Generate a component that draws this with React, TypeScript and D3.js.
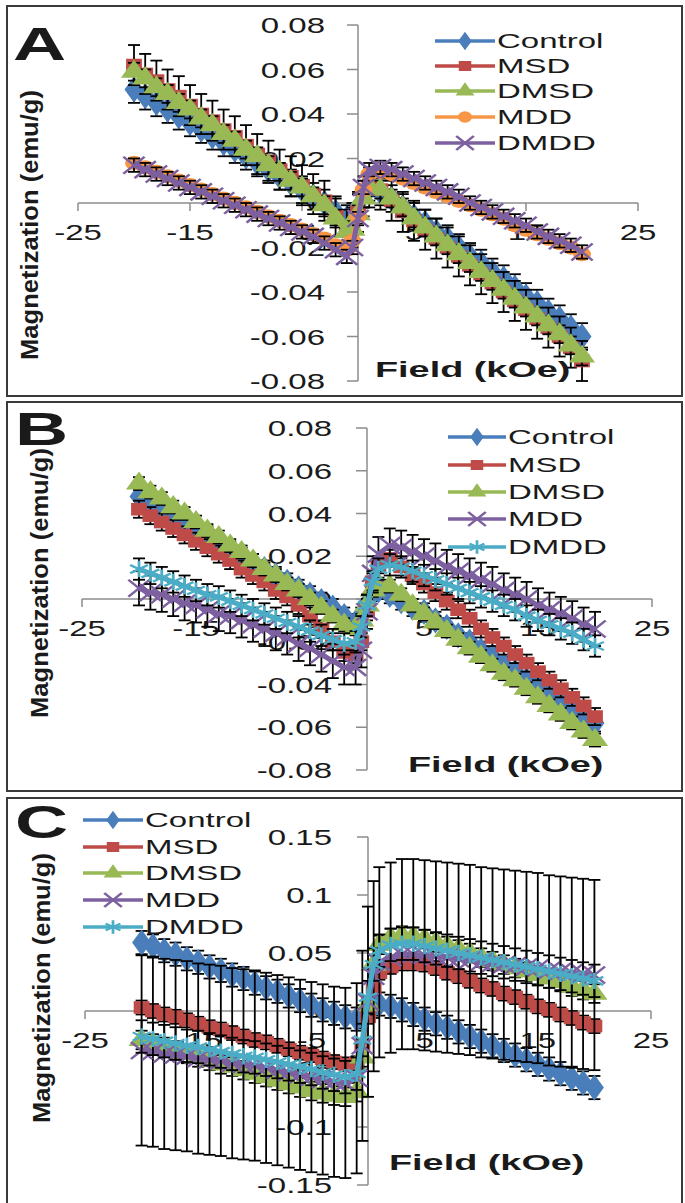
import React from 'react';
import * as d3 from 'd3';

// field (kOe), shared by all three panels
const FIELD = [-20, -19, -18, -17, -16, -15, -14, -13, -12, -11, -10, -9, -8, -7, -6, -5, -4, -3, -2, -1, -0.5, 0, 0.5, 1, 2, 3, 4, 5, 6, 7, 8, 9, 10, 11, 12, 13, 14, 15, 16, 17, 18, 19, 20];

const SERIES = ['Control', 'MSD', 'DMSD', 'MDD', 'DMDD'];
const X_TICKS = [-25, -15, -5, 5, 15, 25];

// panel A
const A_CONTROL = [0.051, 0.048, 0.045, 0.042, 0.039, 0.036, 0.033, 0.030, 0.027, 0.024, 0.021, 0.018, 0.015, 0.012, 0.009, 0.006, 0.003, 0.000, -0.004, -0.007, -0.006, -0.002, 0.004, 0.007, 0.005, 0.002, -0.002, -0.006, -0.009, -0.013, -0.016, -0.020, -0.024, -0.027, -0.031, -0.034, -0.038, -0.042, -0.045, -0.049, -0.052, -0.056, -0.060];
const A_MSD = [0.062, 0.058, 0.055, 0.051, 0.048, 0.044, 0.040, 0.037, 0.033, 0.030, 0.026, 0.022, 0.019, 0.015, 0.012, 0.008, 0.004, 0.001, -0.006, -0.012, -0.011, -0.004, 0.003, 0.007, 0.006, 0.001, -0.004, -0.008, -0.012, -0.016, -0.020, -0.024, -0.028, -0.032, -0.036, -0.040, -0.044, -0.048, -0.052, -0.056, -0.060, -0.065, -0.071];
const A_DMSD = [0.059, 0.056, 0.052, 0.049, 0.045, 0.042, 0.038, 0.035, 0.031, 0.028, 0.024, 0.021, 0.017, 0.014, 0.010, 0.007, 0.003, -0.001, -0.007, -0.013, -0.012, -0.005, 0.002, 0.007, 0.006, 0.002, -0.002, -0.007, -0.011, -0.015, -0.019, -0.023, -0.027, -0.031, -0.035, -0.039, -0.043, -0.047, -0.051, -0.055, -0.059, -0.064, -0.069];
const A_MDD = [0.018, 0.016, 0.014, 0.012, 0.010, 0.008, 0.006, 0.004, 0.002, 0.000, -0.002, -0.004, -0.006, -0.008, -0.010, -0.012, -0.014, -0.016, -0.019, -0.021, -0.017, -0.006, 0.006, 0.013, 0.014, 0.013, 0.011, 0.009, 0.007, 0.005, 0.003, 0.001, -0.001, -0.003, -0.005, -0.007, -0.010, -0.012, -0.014, -0.016, -0.018, -0.020, -0.023];
const A_DMDD = [0.017, 0.015, 0.013, 0.011, 0.009, 0.007, 0.005, 0.003, 0.001, -0.001, -0.003, -0.005, -0.007, -0.009, -0.011, -0.013, -0.015, -0.018, -0.021, -0.024, -0.020, -0.007, 0.007, 0.015, 0.016, 0.015, 0.013, 0.011, 0.009, 0.007, 0.005, 0.003, 0.000, -0.002, -0.004, -0.006, -0.008, -0.010, -0.013, -0.015, -0.017, -0.019, -0.022];
const A_ERR = [0.006, 0.009, 0.004, 0.002, 0.003];

// panel B
const B_CONTROL = [0.048, 0.045, 0.042, 0.039, 0.036, 0.033, 0.030, 0.026, 0.023, 0.020, 0.017, 0.014, 0.011, 0.008, 0.005, 0.002, -0.001, -0.004, -0.008, -0.011, -0.008, -0.002, 0.003, 0.004, 0.002, -0.001, -0.004, -0.006, -0.010, -0.013, -0.017, -0.020, -0.024, -0.027, -0.031, -0.034, -0.038, -0.041, -0.045, -0.048, -0.052, -0.055, -0.058];
const B_MSD = [0.042, 0.039, 0.036, 0.033, 0.030, 0.027, 0.024, 0.021, 0.018, 0.014, 0.011, 0.008, 0.004, 0.001, -0.003, -0.008, -0.014, -0.020, -0.025, -0.026, -0.020, -0.006, 0.008, 0.016, 0.019, 0.015, 0.011, 0.007, 0.003, -0.001, -0.005, -0.009, -0.014, -0.018, -0.022, -0.026, -0.030, -0.034, -0.038, -0.042, -0.046, -0.050, -0.055];
const B_DMSD = [0.054, 0.050, 0.047, 0.043, 0.040, 0.036, 0.032, 0.029, 0.025, 0.022, 0.018, 0.014, 0.011, 0.007, 0.004, 0.000, -0.004, -0.008, -0.012, -0.014, -0.010, -0.003, 0.004, 0.007, 0.006, 0.002, -0.003, -0.007, -0.011, -0.015, -0.019, -0.023, -0.027, -0.031, -0.035, -0.038, -0.042, -0.046, -0.050, -0.054, -0.058, -0.062, -0.066];
const B_MDD = [0.005, 0.003, 0.002, 0.000, -0.002, -0.003, -0.005, -0.007, -0.008, -0.010, -0.012, -0.014, -0.016, -0.018, -0.021, -0.023, -0.026, -0.029, -0.032, -0.032, -0.024, -0.006, 0.012, 0.021, 0.025, 0.024, 0.022, 0.020, 0.018, 0.015, 0.013, 0.011, 0.009, 0.007, 0.004, 0.002, 0.000, -0.003, -0.005, -0.007, -0.009, -0.012, -0.014];
const B_DMDD = [0.014, 0.012, 0.010, 0.008, 0.006, 0.004, 0.002, 0.001, -0.001, -0.003, -0.005, -0.007, -0.009, -0.011, -0.013, -0.015, -0.017, -0.019, -0.021, -0.020, -0.013, -0.003, 0.008, 0.014, 0.016, 0.015, 0.013, 0.011, 0.009, 0.007, 0.005, 0.003, 0.001, -0.001, -0.003, -0.005, -0.008, -0.010, -0.012, -0.014, -0.016, -0.019, -0.022];
const B_ERR = [0.004, 0.004, 0.003, 0.008, 0.005];

// panel C
const C_CONTROL = [0.059, 0.056, 0.052, 0.049, 0.045, 0.042, 0.038, 0.035, 0.031, 0.028, 0.024, 0.020, 0.017, 0.013, 0.009, 0.005, 0.001, -0.002, -0.005, -0.007, -0.005, 0.000, 0.004, 0.006, 0.004, 0.001, -0.003, -0.007, -0.011, -0.014, -0.018, -0.022, -0.026, -0.030, -0.034, -0.038, -0.042, -0.046, -0.050, -0.054, -0.058, -0.062, -0.066];
const C_MSD = [0.003, 0.000, -0.003, -0.005, -0.008, -0.011, -0.014, -0.016, -0.019, -0.022, -0.025, -0.027, -0.030, -0.033, -0.036, -0.038, -0.041, -0.044, -0.046, -0.045, -0.030, -0.005, 0.020, 0.033, 0.038, 0.041, 0.041, 0.040, 0.037, 0.033, 0.030, 0.026, 0.022, 0.019, 0.015, 0.012, 0.008, 0.004, 0.001, -0.003, -0.006, -0.010, -0.013];
const C_DMSD = [-0.025, -0.028, -0.031, -0.034, -0.037, -0.040, -0.043, -0.046, -0.048, -0.051, -0.054, -0.057, -0.060, -0.063, -0.066, -0.069, -0.071, -0.073, -0.074, -0.070, -0.040, 0.005, 0.040, 0.057, 0.063, 0.065, 0.064, 0.062, 0.059, 0.056, 0.053, 0.050, 0.046, 0.043, 0.040, 0.037, 0.034, 0.031, 0.028, 0.025, 0.021, 0.018, 0.015];
const C_MDD = [-0.034, -0.035, -0.037, -0.038, -0.039, -0.041, -0.042, -0.043, -0.045, -0.046, -0.047, -0.049, -0.051, -0.053, -0.055, -0.057, -0.059, -0.061, -0.062, -0.058, -0.030, 0.008, 0.030, 0.042, 0.046, 0.049, 0.049, 0.048, 0.047, 0.046, 0.045, 0.044, 0.042, 0.041, 0.040, 0.039, 0.038, 0.037, 0.035, 0.034, 0.033, 0.032, 0.031];
const C_DMDD = [-0.022, -0.024, -0.026, -0.028, -0.030, -0.031, -0.033, -0.035, -0.037, -0.039, -0.040, -0.042, -0.044, -0.046, -0.048, -0.050, -0.053, -0.055, -0.057, -0.054, -0.025, 0.012, 0.040, 0.052, 0.057, 0.058, 0.058, 0.056, 0.054, 0.052, 0.050, 0.048, 0.046, 0.044, 0.042, 0.040, 0.038, 0.036, 0.034, 0.032, 0.030, 0.028, 0.026];
const C_ERR = [0.010, 0.006, 0.008, 0.082, 0.014];

const Y_TICKS_AB = [-0.08, -0.06, -0.04, -0.02, 0, 0.02, 0.04, 0.06, 0.08];
const Y_LABELS_AB = ['-0.08', '-0.06', '-0.04', '-0.02', '0', '0.02', '0.04', '0.06', '0.08'];
const Y_TICKS_C = [-0.15, -0.1, -0.05, 0, 0.05, 0.1, 0.15];
const Y_LABELS_C = ['-0.15', '-0.1', '-0.05', '0', '0.05', '0.1', '0.15'];

const COLORS_A = ['#4a7ebb', '#be4b48', '#98b954', '#f79646', '#7d60a0'];
const COLORS_BC = ['#4a7ebb', '#be4b48', '#98b954', '#7d60a0', '#4bacc6'];
const MARKERS_A = ['diamond', 'square', 'triangle', 'circle', 'times'];
const MARKERS_BC = ['diamond', 'square', 'triangle', 'times', 'asterisk'];

const FONT = "'Liberation Sans', Arial, sans-serif";

const plotSymbols: Record<string, string> = {
  diamond: d3.symbol(d3.symbolDiamond, 200)() as string,
  square: d3.symbol(d3.symbolSquare, 160)() as string,
  triangle: d3.symbol(d3.symbolTriangle, 190)() as string,
  circle: d3.symbol(d3.symbolCircle, 160)() as string,
  times: d3.symbol(d3.symbolTimes, 190)() as string,
  asterisk: d3.symbol(d3.symbolAsterisk, 190)() as string,
};
const legendSymbols: Record<string, string> = {
  diamond: d3.symbol(d3.symbolDiamond, 100)() as string,
  square: d3.symbol(d3.symbolSquare, 100)() as string,
  triangle: d3.symbol(d3.symbolTriangle, 100)() as string,
  circle: d3.symbol(d3.symbolCircle, 100)() as string,
  times: d3.symbol(d3.symbolTimes, 130)() as string,
  asterisk: d3.symbol(d3.symbolAsterisk, 130)() as string,
};

function Marker({ type, color, x, y, paths = plotSymbols }: any) {
  const t = `translate(${x},${y}) scale(1.25,1)`;
  if (type === 'times' || type === 'asterisk') {
    return <path transform={t} d={paths[type]} fill="none" stroke={color} strokeWidth={2.2} />;
  }
  return <path transform={t} d={paths[type]} fill={color} />;
}

function Txt({ x, y, sx = 1.5, size = 22, anchor = 'start', weight = 'normal', children }: any) {
  return (
    <text transform={`translate(${x},${y}) scale(${sx},1)`} fontSize={size} textAnchor={anchor}
      fontWeight={weight} fontFamily={FONT} fill="#1a1a1a">{children}</text>
  );
}

function Panel({ cfg }: any) {
  const x = d3.scaleLinear().domain([-25, 25]).range(cfg.xRange);
  const y = d3.scaleLinear().domain(cfg.yDomain).range(cfg.yRange);
  const line = d3.line<number>().x((_, i) => x(FIELD[i])).y((d) => y(d));
  const x0 = x(0);
  const y0 = y(0);

  return (
    <g>
      <rect x={7} y={cfg.frame[0]} width={675} height={cfg.frame[1]} fill="#fff" stroke="#3a3a3a" strokeWidth={2} />

      {/* axes */}
      <line x1={x(-25)} x2={x(25)} y1={y0} y2={y0} stroke="#8c8c8c" strokeWidth={1.5} />
      <line x1={x0} x2={x0} y1={y(cfg.yTicks[0])} y2={y(cfg.yTicks[cfg.yTicks.length - 1])} stroke="#8c8c8c" strokeWidth={1.5} />
      {X_TICKS.map((t) => (
        <line key={'xt' + t} x1={x(t)} x2={x(t)} y1={y0} y2={y0 + 8} stroke="#8c8c8c" strokeWidth={1.5} />
      ))}
      {cfg.yTicks.map((t: number) => (
        <line key={'yt' + t} x1={x0 - 11} x2={x0} y1={y(t)} y2={y(t)} stroke="#8c8c8c" strokeWidth={1.5} />
      ))}
      {X_TICKS.map((t) => (
        <Txt key={'xl' + t} x={x(t)} y={y0 + 37} anchor="middle">{String(t)}</Txt>
      ))}
      {cfg.yTicks.map((t: number, i: number) => (
        <Txt key={'yl' + t} x={cfg.yLabelRight} y={y(t) + 8} anchor="end">{cfg.yLabels[i]}</Txt>
      ))}

      {/* series: error bars first, then line and markers */}
      {cfg.data.map((vals: number[], si: number) => {
        const err = cfg.err[si];
        return (
          <g key={'s' + si}>
            {vals.map((v, i) => {
              const px = x(FIELD[i]);
              const ya = y(v + err);
              const yb = y(v - err);
              return (
                <g key={i} stroke="#000" strokeWidth={1.8}>
                  <line x1={px} x2={px} y1={ya} y2={yb} />
                  <line x1={px - 6} x2={px + 6} y1={ya} y2={ya} />
                  <line x1={px - 6} x2={px + 6} y1={yb} y2={yb} />
                </g>
              );
            })}
            <path d={line(vals) as string} fill="none" stroke={cfg.colors[si]} strokeWidth={5} />
            {vals.map((v, i) => (
              <Marker key={'m' + i} type={cfg.markers[si]} color={cfg.colors[si]} x={x(FIELD[i])} y={y(v)} />
            ))}
          </g>
        );
      })}

      {/* legend */}
      {SERIES.map((name, si) => {
        const ry = cfg.legend.rows[si];
        return (
          <g key={'lg' + si}>
            <line x1={cfg.legend.x0} x2={cfg.legend.x1} y1={ry} y2={ry} stroke={cfg.colors[si]} strokeWidth={3.5} />
            <Marker type={cfg.markers[si]} color={cfg.colors[si]} x={(cfg.legend.x0 + cfg.legend.x1) / 2} y={ry} paths={legendSymbols} />
            <Txt x={cfg.legend.x1 + 2} y={ry + 7} size={20} sx={1.65}>{name}</Txt>
          </g>
        );
      })}

      {/* titles */}
      <Txt x={cfg.letter[0]} y={cfg.letter[1]} size={46} sx={1.6} weight="bold">{cfg.letter[2]}</Txt>
      <Txt x={cfg.field[0]} y={cfg.field[1]} size={22} sx={1.72} weight="bold">Field (kOe)</Txt>
      <text transform={`translate(${cfg.ytitle[0]},${cfg.ytitle[1]}) rotate(-90)`} x={-135} y={8}
        fontSize={24} fontWeight="bold" fontFamily={FONT} fill="#1a1a1a"
        textLength={270} lengthAdjust="spacingAndGlyphs">Magnetization  (emu/g)</text>
    </g>
  );
}

const PANELS = [
  {
    frame: [6, 390], xRange: [78, 638], yDomain: [-0.08, 0.08], yRange: [381, 25],
    yTicks: Y_TICKS_AB, yLabels: Y_LABELS_AB, yLabelRight: 325,
    legend: { x0: 435, x1: 495, rows: [41, 66, 91, 117, 143] },
    letter: [13, 60, 'A'], field: [375, 377], ytitle: [30, 225],
    data: [A_CONTROL, A_MSD, A_DMSD, A_MDD, A_DMDD], err: A_ERR,
    colors: COLORS_A, markers: MARKERS_A,
  },
  {
    frame: [402, 389], xRange: [82, 652], yDomain: [-0.08, 0.08], yRange: [770, 428],
    yTicks: Y_TICKS_AB, yLabels: Y_LABELS_AB, yLabelRight: 332,
    legend: { x0: 448, x1: 506, rows: [437, 465, 492, 519, 547] },
    letter: [15, 445, 'B'], field: [408, 772], ytitle: [40, 583],
    data: [B_CONTROL, B_MSD, B_DMSD, B_MDD, B_DMDD], err: B_ERR,
    colors: COLORS_BC, markers: MARKERS_BC,
  },
  {
    frame: [798, 420], xRange: [85, 651], yDomain: [-0.15, 0.15], yRange: [1185, 837],
    yTicks: Y_TICKS_C, yLabels: Y_LABELS_C, yLabelRight: 332,
    legend: { x0: 83, x1: 143, rows: [820, 847, 873, 900, 927] },
    letter: [15, 838, 'C'], field: [389, 1170], ytitle: [42, 988],
    data: [C_CONTROL, C_MSD, C_DMSD, C_MDD, C_DMDD], err: C_ERR,
    colors: COLORS_BC, markers: MARKERS_BC,
  },
];

export default function App() {
  return (
    <div style={{ position: 'absolute', left: 0, top: 0 }}>
      <svg width={685} height={1203} style={{ display: 'block', background: '#fff' }}>
        {PANELS.map((p, i) => <Panel key={i} cfg={p} />)}
      </svg>
    </div>
  );
}
